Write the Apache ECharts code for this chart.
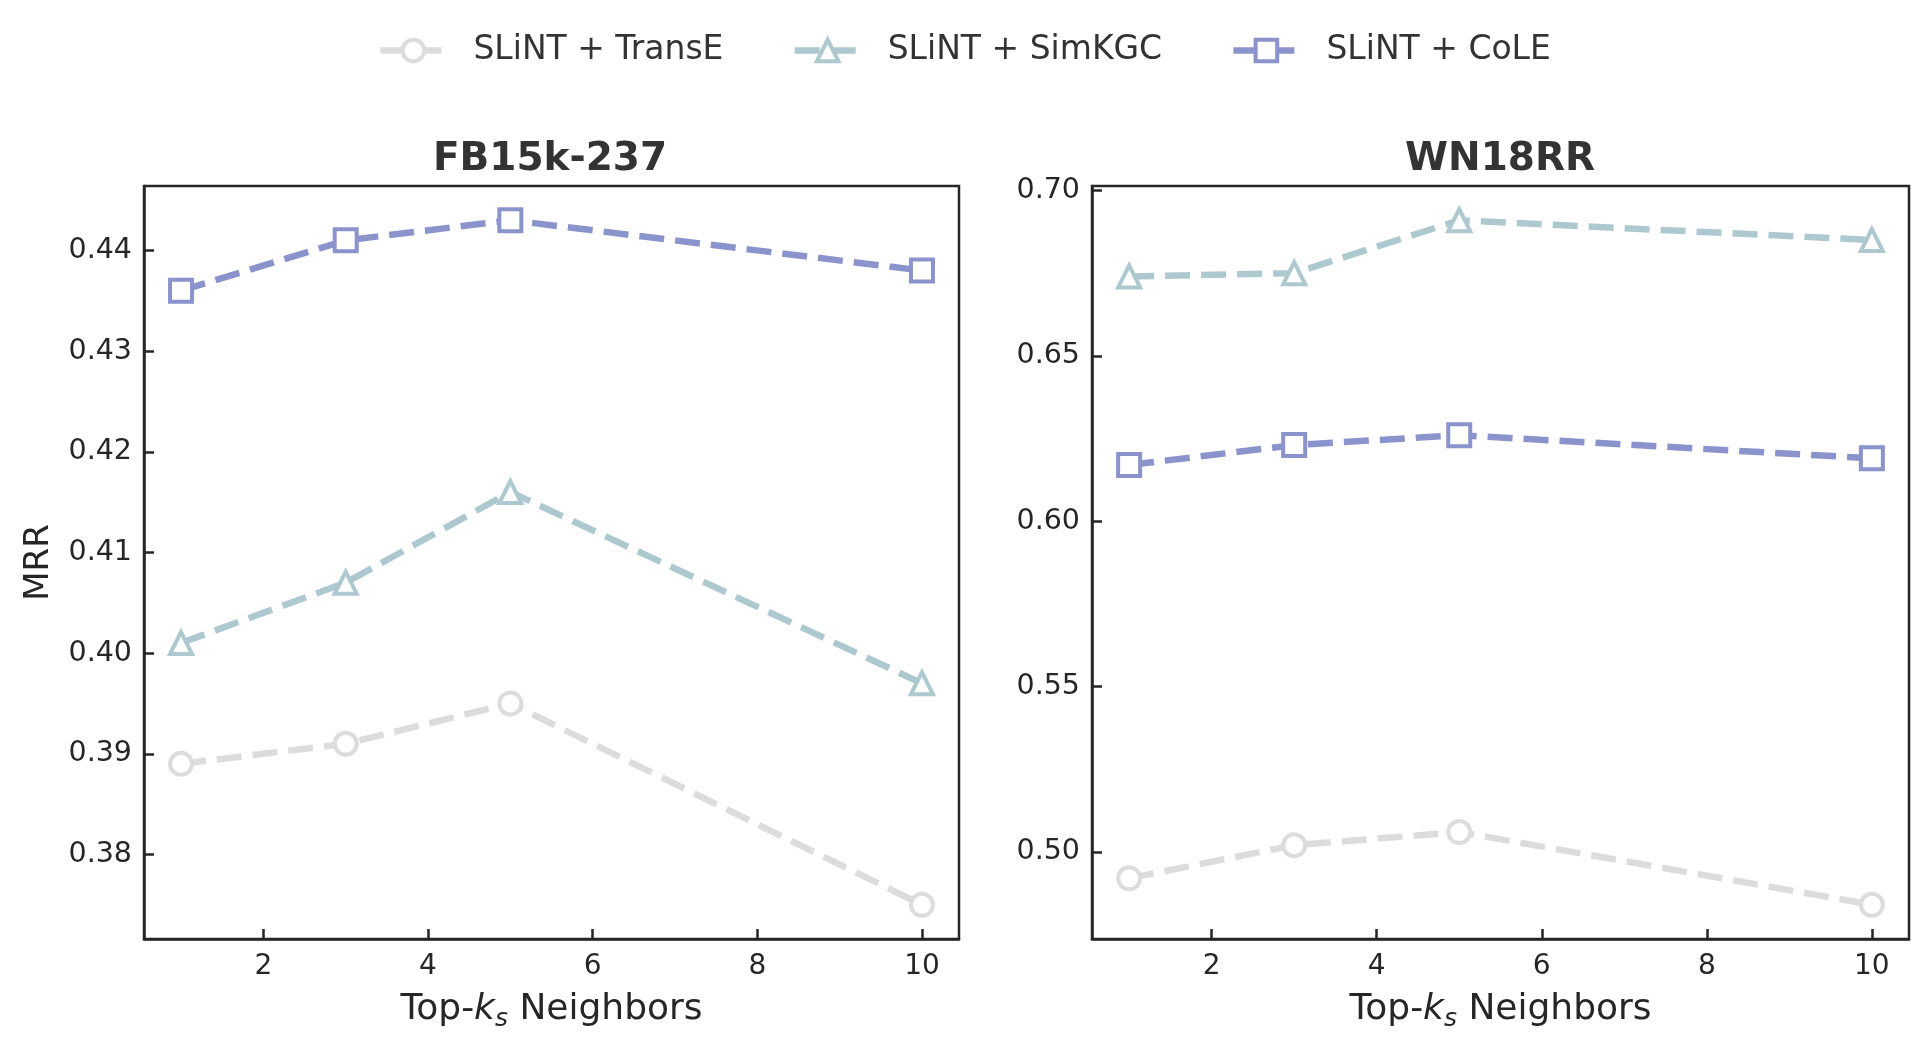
<!DOCTYPE html>
<html>
<head>
<meta charset="utf-8">
<script src="https://cdn.jsdelivr.net/npm/echarts@6/dist/echarts.min.js"></script>
<style>
html,body{margin:0;padding:0;background:#fff;}
#c{width:1928px;height:1047px;}
</style>
</head>
<body>
<div id="c"></div>
<script>
// ---- data ----
const ks = [1, 3, 5, 10];
const seriesNames = ['SLiNT + TransE', 'SLiNT + SimKGC', 'SLiNT + CoLE'];
const fbTransE = [0.389, 0.391, 0.395, 0.375];
const fbSimKGC = [0.401, 0.407, 0.416, 0.397];
const fbCoLE   = [0.436, 0.441, 0.443, 0.438];
const wnTransE = [0.492, 0.502, 0.506, 0.484];
const wnSimKGC = [0.674, 0.675, 0.691, 0.685];
const wnCoLE   = [0.617, 0.623, 0.626, 0.619];
const xTicks  = [2, 4, 6, 8, 10];
const fbTicks = [0.38, 0.39, 0.40, 0.41, 0.42, 0.43, 0.44];
const wnTicks = [0.50, 0.55, 0.60, 0.65, 0.70];
const panelTitles = ['FB15k-237', 'WN18RR'];

// ---- style ----
const FONT = 'DejaVu Sans';
const colors = ['#dcdcdc', '#aec8d0', '#8b93cc'];
const symbols = ['circle', 'triangle', 'rect'];
const axisColor = '#262626';

function pad(arr){
  const mn = Math.min(...arr), mx = Math.max(...arr), m = (mx - mn) * 0.05;
  return [mn - m, mx + m];
}
const fbRange = pad([].concat(fbTransE, fbSimKGC, fbCoLE));
const wnRange = pad([].concat(wnTransE, wnSimKGC, wnCoLE));
const xRange = pad(ks);

const grids = [
  {left: 144, top: 186, width: 815, height: 753},
  {left: 1092, top: 186, width: 817, height: 753}
];

function xAxis(i){
  return {
    type: 'value', gridIndex: i, min: xRange[0], max: xRange[1],
    splitLine: {show: false},
    axisLine: {show: true, onZero: false, lineStyle: {color: axisColor, width: 2.5}},
    axisTick: {show: true, inside: true, length: 10, customValues: xTicks, lineStyle: {color: axisColor, width: 2.5}},
    axisLabel: {customValues: xTicks, margin: 14, color: axisColor, fontFamily: FONT, fontSize: 28},
    name: '{a|Top-}{k|k}{s|s}{a| Neighbors}',
    nameLocation: 'middle', nameGap: 48,
    nameTextStyle: {
      rich: {
        a: {fontFamily: FONT, fontSize: 36, color: axisColor},
        k: {fontFamily: FONT, fontSize: 36, fontStyle: 'italic', color: axisColor},
        s: {fontFamily: FONT, fontSize: 25, fontStyle: 'italic', color: axisColor, padding: [20, 0, 0, 0]}
      }
    }
  };
}
function yAxis(i, range, ticks, name){
  return {
    type: 'value', gridIndex: i, min: range[0], max: range[1],
    splitLine: {show: false},
    axisLine: {show: true, onZero: false, lineStyle: {color: axisColor, width: 2.5}},
    axisTick: {show: true, inside: true, length: 10, customValues: ticks, lineStyle: {color: axisColor, width: 2.5}},
    axisLabel: {customValues: ticks, margin: 12, color: axisColor, fontFamily: FONT, fontSize: 28.5,
      formatter: v => v.toFixed(2)},
    name: name, nameLocation: 'middle', nameGap: 88,
    nameTextStyle: {fontFamily: FONT, fontSize: 34, color: axisColor}
  };
}

function mk(nameIdx, gi, vals){
  return {
    name: seriesNames[nameIdx], type: 'line',
    xAxisIndex: gi, yAxisIndex: gi,
    data: ks.map((k, j) => [k, vals[j]]),
    symbol: symbols[nameIdx], symbolSize: 22, showSymbol: true,
    clip: false,
    lineStyle: {color: colors[nameIdx], width: 6.5, type: [25, 11]},
    itemStyle: {color: '#ffffff', borderColor: colors[nameIdx], borderWidth: 4},
    emphasis: {disabled: true},
    z: 2 + nameIdx
  };
}

const chart = echarts.init(document.getElementById('c'), null, {renderer: 'canvas'});
chart.setOption({
  animation: false,
  backgroundColor: '#ffffff',
  title: [
    {text: panelTitles[0], left: 545, top: 135, textAlign: 'center',
      textStyle: {fontFamily: FONT, fontWeight: 'bold', fontSize: 39, color: '#333333'}},
    {text: panelTitles[1], left: 1495, top: 135, textAlign: 'center',
      textStyle: {fontFamily: FONT, fontWeight: 'bold', fontSize: 39, color: '#333333'}}
  ],
  legend: {
    data: seriesNames, left: 'center', top: 29,
    itemWidth: 66, itemHeight: 27, itemGap: 68,
    lineStyle: {width: 6.5, type: [25, 11]},
    itemStyle: {borderWidth: 4},
    textStyle: {fontFamily: FONT, fontSize: 33, color: '#333333', padding: [0, 0, 0, 22]}
  },
  grid: grids.map(g => Object.assign({show: true, borderColor: axisColor, borderWidth: 2.5, backgroundColor: 'transparent'}, g)),
  xAxis: [xAxis(0), xAxis(1)],
  yAxis: [yAxis(0, fbRange, fbTicks, 'MRR'), yAxis(1, wnRange, wnTicks, '')],
  series: [
    mk(0, 0, fbTransE), mk(1, 0, fbSimKGC), mk(2, 0, fbCoLE),
    mk(0, 1, wnTransE), mk(1, 1, wnSimKGC), mk(2, 1, wnCoLE)
  ]
});
</script>
</body>
</html>
